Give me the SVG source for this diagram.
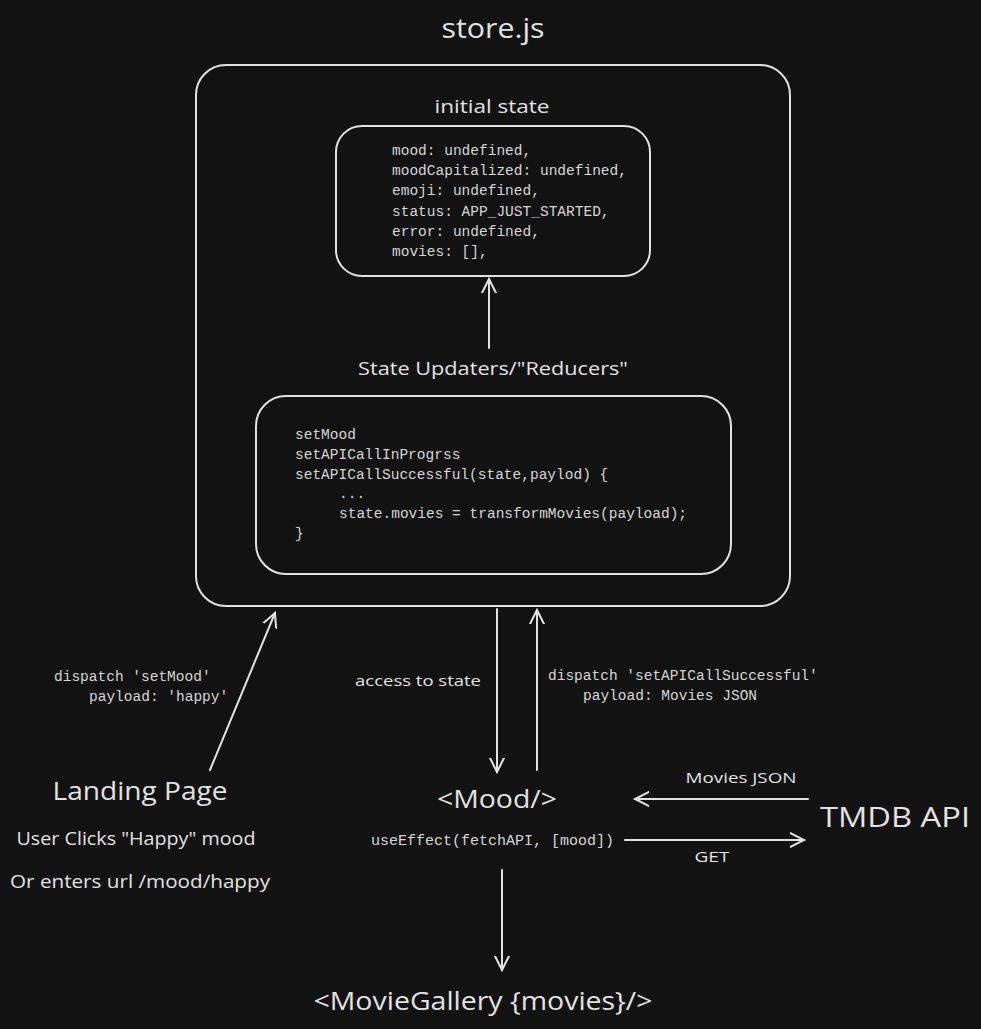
<svg xmlns="http://www.w3.org/2000/svg" width="981" height="1029" viewBox="0 0 981 1029">
<style>
.bg{fill:#121212}
.box{fill:none;stroke:#e2e2e2;stroke-width:2}
.hand{font-family:"Open Sans","Liberation Sans",sans-serif;fill:#e2e2e2;text-anchor:middle}
.code{font-family:"Liberation Mono","DejaVu Sans Mono",monospace;font-size:14.5px;fill:#d6d6d6}
.conn{fill:none;stroke:#e2e2e2;stroke-width:2;stroke-linecap:round}
</style>
<defs>
<marker id="ah" markerWidth="20" markerHeight="20" refX="14" refY="8" orient="auto" markerUnits="userSpaceOnUse" viewBox="0 0 20 16">
<path d="M0,1 L14,8 L0,15" fill="none" stroke="#e2e2e2" stroke-width="2" stroke-linecap="round"/>
</marker>
</defs>
<rect class="bg" x="0" y="0" width="981" height="1029"/>
<g id="title"><text class="hand" x="493" y="38" font-size="28" textLength="103" lengthAdjust="spacingAndGlyphs">store.js</text></g>
<g id="store">
<rect class="box" x="196" y="65" width="594" height="541" rx="30"/>
</g>
<g id="initial-state">
<text class="hand" x="492" y="113" font-size="19" textLength="115" lengthAdjust="spacingAndGlyphs">initial state</text>
<rect class="box" x="336" y="126" width="314" height="150" rx="26"/>
<text class="code" x="392" y="155">mood: undefined,</text>
<text class="code" x="392" y="175">moodCapitalized: undefined,</text>
<text class="code" x="392" y="195">emoji: undefined,</text>
<text class="code" x="392" y="216">status: APP_JUST_STARTED,</text>
<text class="code" x="392" y="236">error: undefined,</text>
<text class="code" x="392" y="256">movies: [],</text>
</g>
<g id="reducers">
<text class="hand" x="493" y="375" font-size="19" textLength="270" lengthAdjust="spacingAndGlyphs">State Updaters/"Reducers"</text>
<rect class="box" x="256" y="396" width="475" height="178" rx="30"/>
<text class="code" x="295" y="439">setMood</text>
<text class="code" x="295" y="459">setAPICallInProgrss</text>
<text class="code" x="295" y="479">setAPICallSuccessful(state,paylod) {</text>
<text class="code" x="339" y="498">...</text>
<text class="code" x="339" y="518">state.movies = transformMovies(payload);</text>
<text class="code" x="295" y="538">}</text>
</g>
<g id="landing">
<text class="hand" x="140" y="800" font-size="26" textLength="175" lengthAdjust="spacingAndGlyphs">Landing Page</text>
<text class="hand" x="136" y="845" font-size="18" textLength="239" lengthAdjust="spacingAndGlyphs">User Clicks "Happy" mood</text>
<text class="hand" x="140" y="888" font-size="18" textLength="260" lengthAdjust="spacingAndGlyphs">Or enters url /mood/happy</text>
</g>
<g id="mood">
<text class="hand" x="497" y="808" font-size="26" textLength="120" lengthAdjust="spacingAndGlyphs">&lt;Mood/&gt;</text>
<text class="code" x="371" y="845" style="font-size:15px">useEffect(fetchAPI, [mood])</text>
</g>
<g id="tmdb"><text class="hand" x="895" y="827" font-size="28" textLength="150" lengthAdjust="spacingAndGlyphs">TMDB API</text></g>
<g id="gallery"><text class="hand" x="483" y="1010" font-size="26" textLength="339" lengthAdjust="spacingAndGlyphs">&lt;MovieGallery {movies}/&gt;</text></g>
<g id="connectors">
<line class="conn" x1="489" y1="348" x2="489" y2="279" marker-end="url(#ah)"/>
<line class="conn" x1="210" y1="770" x2="275" y2="613" marker-end="url(#ah)"/>
<line class="conn" x1="497" y1="609" x2="497" y2="772" marker-end="url(#ah)"/>
<line class="conn" x1="537" y1="770" x2="537" y2="610" marker-end="url(#ah)"/>
<line class="conn" x1="808" y1="799" x2="635" y2="799" marker-end="url(#ah)"/>
<line class="conn" x1="625" y1="840" x2="804" y2="840" marker-end="url(#ah)"/>
<line class="conn" x1="502" y1="870" x2="502" y2="970" marker-end="url(#ah)"/>
<text class="code" x="54" y="681">dispatch 'setMood'</text>
<text class="code" x="89" y="701">payload: 'happy'</text>
<text class="hand" x="418" y="686" font-size="15" textLength="126" lengthAdjust="spacingAndGlyphs">access to state</text>
<text class="code" x="548" y="680">dispatch 'setAPICallSuccessful'</text>
<text class="code" x="583" y="700">payload: Movies JSON</text>
<text class="hand" x="741" y="783" font-size="15" textLength="111" lengthAdjust="spacingAndGlyphs">Movies JSON</text>
<text class="hand" x="712" y="862" font-size="15" textLength="35" lengthAdjust="spacingAndGlyphs">GET</text>
</g>
</svg>
